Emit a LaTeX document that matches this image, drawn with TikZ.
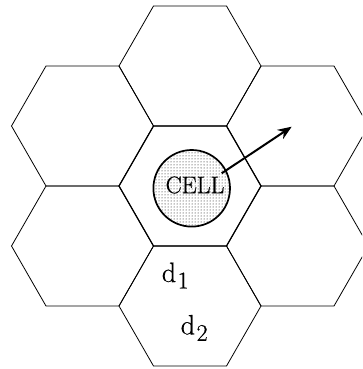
\documentclass[tikz,border=0pt]{standalone}
\usepackage{fontspec}
\setmainfont{Latin Modern Roman}
\usepackage{tikz}
\usetikzlibrary{arrows.meta, patterns}

\newfontfamily\labelfont[FakeBold=0.6]{Latin Modern Roman}

\tikzset{
    hexline/.style={line width=0.8pt, line join=miter},
    hexcentre/.style={line width=1.2pt, line join=miter},
    cellspot/.style={circle, draw, line width=1.7pt, pattern=dots,
        minimum size=76.6pt, inner sep=0pt},
    dlabel/.style={inner sep=0pt}
}
\newcommand{\dsub}[1]{d\kern1.5pt\raisebox{-6.5pt}{\fontsize{24}{24}\selectfont #1}}

\begin{document}
\begin{tikzpicture}[x=1pt, y=-1pt]

    % === Frame (clips the right-hand cells) ===
    \useasboundingbox (0,0) rectangle (362,369);
    \clip (0,0) rectangle (362,369);

    % === Ring of cells round the centre one ===
    \foreach \cx/\cy in {190/66, 190/306, 82.5/126, 82.5/246, 297.5/126, 297.5/246}{
        \draw[hexline] (\cx,\cy) ++(-71,0) -- ++(34.5,-60) -- ++(73,0)
            -- ++(34.5,60) -- ++(-34.5,60) -- ++(-73,0) -- cycle;
    }

    % === Centre cell ===
    \draw[hexcentre] (190,186) ++(-71,0) -- ++(34.5,-60) -- ++(73,0)
        -- ++(34.5,60) -- ++(-34.5,60) -- ++(-73,0) -- cycle;

    % Spot in the middle
    \node[cellspot] (cell) at (191.7,188.3) {};
    \node[inner sep=0pt] (celltext) at (195,185) {\labelfont\fontsize{24}{26}\selectfont CELL};

    % Arrow leaving the spot
    \coordinate (tail) at (221.7,173.3);
    \coordinate (tip) at (291.7,126.7);
    \draw[line width=2pt, -{Stealth[length=14pt, width=11pt]}] (tail) -- (tip);

    % Distances
    \node[dlabel] (done) at (175.3,275.5) {\labelfont\fontsize{28}{30}\selectfont\dsub{1}};
    \node[dlabel] (dtwo) at (194.2,327.9) {\labelfont\fontsize{28}{30}\selectfont\dsub{2}};

\end{tikzpicture}
\end{document}
